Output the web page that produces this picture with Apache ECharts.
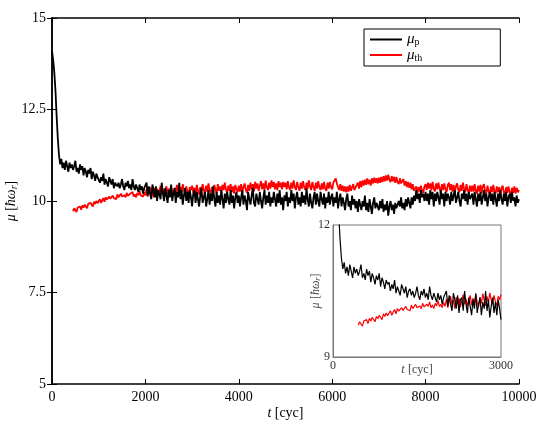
<!DOCTYPE html>
<html><head><meta charset="utf-8">
<script src="https://cdn.jsdelivr.net/npm/echarts@6/dist/echarts.min.js"></script>
<style>html,body{margin:0;padding:0;background:#fff}#c{width:540px;height:426px}</style>
</head><body><div id="c"></div>
<script>
// sampling step of the data (cycles)
const STEP = 25;
const pStart = 0;
const muP = [
14.1, 13.85, 13.5, 13.0, 12.3, 11.7, 11.25, 11.0, 11.15, 10.9, 11.05, 10.85, 11.1, 10.95, 10.8, 11.05, 10.9, 11.0, 10.85, 10.95, 11.1, 10.8, 10.9, 10.75, 11.0, 10.85, 10.95, 10.7, 10.9, 10.8, 10.65, 10.85, 10.75, 10.9, 10.6, 10.8, 10.7, 10.55, 10.75, 10.65,
10.7, 10.5, 10.65, 10.55, 10.75, 10.45, 10.6, 10.5, 10.4, 10.65, 10.55, 10.45, 10.6, 10.35, 10.5, 10.55, 10.4, 10.5, 10.35, 10.45, 10.6, 10.4, 10.3, 10.5, 10.4, 10.55, 10.35, 10.45, 10.3, 10.6, 10.4, 10.3, 10.45, 10.35, 10.25, 10.45, 10.3, 10.4, 10.2, 10.35,
10.35, 10.5, 10.15, 10.4, 10.2, 10.05, 10.45, 10.3, 10.1, 10.4, 10.0, 10.3, 10.35, 10.05, 10.5, 10.2, 10.0, 10.35, 10.15, 9.95, 10.3, 10.1, 10.45, 10.0, 10.2, 10.35, 9.95, 10.25, 10.1, 10.5, 10.05, 10.3, 9.9, 10.15, 10.35, 10.0, 10.25, 9.95, 10.3, 10.1,
9.85, 10.2, 10.3, 9.95, 10.25, 10.05, 9.85, 10.15, 10.35, 9.95, 10.1, 10.25, 9.85, 10.05, 10.3, 9.9, 10.2, 10.0, 10.4, 10.05, 9.85, 10.25, 9.95, 10.15, 9.9, 10.3, 10.05, 9.8, 10.2, 9.95, 10.25, 10.05, 9.9, 10.3, 9.95, 10.15, 9.8, 10.1, 10.25, 9.95,
10.15, 9.85, 10.1, 10.3, 9.9, 10.15, 10.0, 9.75, 10.25, 10.05, 9.9, 10.15, 10.35, 9.95, 9.85, 10.2, 10.05, 9.9, 10.25, 10.0, 9.8, 10.1, 10.3, 9.9, 10.15, 9.95, 10.25, 9.85, 10.1, 9.95, 10.25, 10.05, 9.85, 10.2, 9.95, 10.3, 9.9, 10.1, 9.75, 10.15,
10.0, 10.25, 9.85, 10.1, 9.95, 10.3, 10.0, 10.2, 9.8, 10.1, 10.25, 9.9, 10.1, 9.85, 10.25, 9.95, 10.15, 9.9, 10.35, 10.05, 9.85, 10.2, 9.95, 9.8, 10.1, 10.25, 9.9, 10.2, 10.0, 9.85, 10.25, 10.05, 9.9, 10.2, 9.8, 10.1, 9.95, 10.25, 9.9, 10.1,
10.2, 9.85, 10.1, 9.95, 10.25, 9.8, 10.05, 10.2, 9.85, 10.1, 9.95, 9.75, 10.05, 10.2, 9.85, 10.0, 9.75, 10.15, 9.9, 10.05, 9.8, 10.0, 9.7, 10.05, 9.9, 9.75, 10.0, 9.85, 10.15, 9.75, 9.95, 9.7, 10.05, 9.85, 9.65, 9.95, 10.1, 9.8, 9.95, 9.85,
9.75, 10.0, 9.8, 10.05, 9.7, 9.9, 9.75, 10.0, 9.6, 9.85, 10.0, 9.75, 9.9, 9.65, 9.95, 9.8, 9.75, 10.0, 9.85, 10.1, 9.8, 9.95, 9.75, 10.05, 9.85, 10.1, 9.95, 9.8, 10.1, 9.9, 10.15, 10.0, 10.3, 10.05, 10.2, 9.95, 10.3, 10.1, 10.2, 10.0,
10.25, 10.0, 10.2, 9.9, 10.3, 10.05, 10.25, 9.85, 10.2, 10.0, 10.25, 10.1, 9.9, 10.3, 10.05, 10.2, 9.85, 10.25, 10.0, 10.2, 10.1, 9.9, 10.25, 10.0, 10.15, 10.3, 9.95, 10.1, 10.25, 10.0, 9.85, 10.2, 10.05, 10.3, 10.0, 10.2, 9.9, 10.25, 10.05, 10.0,
10.2, 9.9, 10.25, 10.05, 9.85, 10.2, 10.0, 10.25, 9.9, 10.1, 10.3, 10.0, 10.2, 9.85, 10.1, 10.25, 10.0, 10.2, 9.9, 10.25, 10.05, 9.85, 10.2, 10.0, 10.3, 10.05, 9.9, 10.2, 10.0, 10.25, 9.85, 10.1, 10.2, 9.95, 10.25, 10.0, 10.1, 9.85, 10.15, 9.95,
10.05
];
const thStart = 450;
const muTh = [
9.72, 9.8, 9.75, 9.7, 9.82, 9.78, 9.85, 9.76, 9.88, 9.82, 9.9, 9.85, 9.8, 9.92, 9.87, 9.95, 9.9, 9.85, 9.98, 9.92, 10.0, 9.94,
9.98, 10.05, 9.95, 10.02, 10.08, 9.98, 10.1, 10.04, 10.0, 10.12, 10.06, 10.02, 10.15, 10.08, 10.12, 10.05, 10.18, 10.1, 10.06, 10.2, 10.12, 10.08, 10.16, 10.1, 10.22, 10.14, 10.1, 10.2, 10.15, 10.25, 10.12, 10.18, 10.1, 10.22, 10.16, 10.28, 10.15, 10.2, 10.12, 10.24,
10.15, 10.32, 10.12, 10.28, 10.38, 10.18, 10.3, 10.1, 10.36, 10.2, 10.34, 10.14, 10.27, 10.42, 10.2, 10.33, 10.15, 10.3, 10.4, 10.18, 10.34, 10.22, 10.42, 10.24, 10.14, 10.36, 10.22, 10.44, 10.28, 10.16, 10.38, 10.24, 10.46, 10.3, 10.2, 10.4, 10.26, 10.16, 10.38, 10.3,
10.42, 10.22, 10.36, 10.2, 10.44, 10.28, 10.18, 10.38, 10.26, 10.46, 10.3, 10.2, 10.42, 10.26, 10.48, 10.3, 10.2, 10.38, 10.24, 10.44, 10.32, 10.2, 10.46, 10.28, 10.4, 10.22, 10.44, 10.3, 10.5, 10.32, 10.22, 10.42, 10.28, 10.46, 10.24, 10.4, 10.2, 10.44, 10.32, 10.24,
10.42, 10.26, 10.46, 10.24, 10.38, 10.48, 10.3, 10.22, 10.44, 10.28, 10.5, 10.32, 10.46, 10.26, 10.52, 10.34, 10.48, 10.28, 10.42, 10.54, 10.32, 10.48, 10.3, 10.56, 10.38, 10.3, 10.5, 10.34, 10.56, 10.38, 10.52, 10.32, 10.48, 10.3, 10.54, 10.38, 10.5, 10.32, 10.52, 10.38,
10.5, 10.32, 10.54, 10.38, 10.3, 10.5, 10.34, 10.56, 10.38, 10.3, 10.52, 10.38, 10.28, 10.5, 10.34, 10.54, 10.38, 10.3, 10.5, 10.34, 10.56, 10.4, 10.3, 10.52, 10.38, 10.28, 10.5, 10.34, 10.54, 10.38, 10.3, 10.48, 10.32, 10.52, 10.34, 10.28, 10.5, 10.34, 10.52, 10.38,
10.32, 10.5, 10.56, 10.62, 10.48, 10.38, 10.3, 10.46, 10.28, 10.42, 10.26, 10.4, 10.24, 10.4, 10.26, 10.44, 10.28, 10.24, 10.46, 10.3, 10.26, 10.44, 10.5, 10.34, 10.54, 10.38, 10.56, 10.42, 10.58, 10.44, 10.62, 10.46, 10.58, 10.42, 10.62, 10.48, 10.64, 10.5, 10.62, 10.48,
10.64, 10.5, 10.66, 10.52, 10.68, 10.54, 10.7, 10.56, 10.72, 10.58, 10.52, 10.68, 10.54, 10.66, 10.5, 10.66, 10.52, 10.46, 10.62, 10.48, 10.44, 10.6, 10.42, 10.54, 10.38, 10.52, 10.36, 10.5, 10.32, 10.46, 10.28, 10.24, 10.4, 10.22, 10.38, 10.26, 10.42, 10.28, 10.22, 10.4,
10.46, 10.3, 10.5, 10.34, 10.48, 10.3, 10.52, 10.34, 10.26, 10.48, 10.32, 10.5, 10.34, 10.24, 10.46, 10.3, 10.48, 10.32, 10.24, 10.44, 10.5, 10.3, 10.46, 10.26, 10.44, 10.22, 10.4, 10.48, 10.3, 10.24, 10.44, 10.28, 10.5, 10.32, 10.24, 10.46, 10.3, 10.22, 10.42, 10.26,
10.42, 10.26, 10.46, 10.28, 10.2, 10.42, 10.26, 10.44, 10.22, 10.4, 10.46, 10.26, 10.2, 10.42, 10.26, 10.18, 10.4, 10.24, 10.44, 10.26, 10.2, 10.4, 10.24, 10.38, 10.18, 10.34, 10.42, 10.24, 10.16, 10.38, 10.22, 10.4, 10.24, 10.16, 10.36, 10.22, 10.4, 10.2, 10.36, 10.24,
10.3
];
const mainXTicks = [0, 2000, 4000, 6000, 8000, 10000];
const mainYTicks = ['5', '7.5', '10', '12.5', '15'];
const insetMaxT = 3000;

const pairs = (start, vals) => vals.map((v, i) => [start + i * STEP, v]);
const pData = pairs(pStart, muP);
const thData = pairs(thStart, muTh);
const pInset = pData.filter(d => d[0] <= insetMaxT);
const thInset = thData.filter(d => d[0] <= insetMaxT);

const FONT = 'Liberation Serif';
const richName = (size, col) => ({
  i: { fontStyle: 'italic', fontFamily: FONT, fontSize: size, color: col },
  n: { fontFamily: FONT, fontSize: size, color: col },
  s: { fontStyle: 'italic', fontFamily: FONT, fontSize: Math.round(size * 0.7), color: col, padding: [Math.round(size * 0.45), 0, 0, 0] }
});

const chart = echarts.init(document.getElementById('c'), null, { renderer: 'canvas' });
const tickIn = { show: true, inside: true, length: 5, lineStyle: { color: '#000', width: 1 } };
const lineBlk = { show: true, lineStyle: { color: '#000', width: 1.5 } };
const lineGray = { show: true, lineStyle: { color: '#777', width: 1 } };
const plain = (v) => String(v);

chart.setOption({
  animation: false,
  backgroundColor: '#fff',
  grid: [
    { left: 52, top: 18, right: 21, bottom: 42, containLabel: false, outerBoundsMode: 'none' },
    { left: 333, top: 225, width: 168, height: 132, show: true, borderColor: '#777', borderWidth: 1, containLabel: false, outerBoundsMode: 'none' }
  ],
  legend: {
    left: 364, top: 29, orient: 'vertical',
    padding: [3, 78, 3, 6],
    borderColor: '#000', borderWidth: 1,
    itemWidth: 32, itemHeight: 2, itemGap: 0, icon: 'rect',
    data: ['p', 'th'],
    formatter: (n) => '{i|μ}{s|' + n + '}',
    textStyle: { rich: {
      i: { fontStyle: 'italic', fontFamily: FONT, fontSize: 15, color: '#000' },
      s: { fontFamily: FONT, fontSize: 10, color: '#000', padding: [6, 0, 0, 0] }
    } }
  },
  xAxis: [
    { gridIndex: 0, type: 'value', min: 0, max: 10000, interval: 2000,
      axisLine: lineBlk, axisTick: tickIn, splitLine: { show: false },
      axisLabel: { fontSize: 14, margin: 6, color: '#000', fontFamily: FONT, formatter: (v) => String(mainXTicks[mainXTicks.indexOf(v)]) },
      name: '{i|t} {n|[cyc]}', nameLocation: 'middle', nameGap: 22, nameMoveOverlap: false,
      nameTextStyle: { rich: richName(14, '#000') } },
    { gridIndex: 0, type: 'value', position: 'top', min: 0, max: 10000, interval: 2000,
      axisLine: lineBlk, axisTick: tickIn, axisLabel: { show: false }, splitLine: { show: false } },
    { gridIndex: 1, type: 'value', min: 0, max: insetMaxT, interval: insetMaxT,
      axisLine: lineGray, axisTick: { show: false }, splitLine: { show: false },
      axisLabel: { fontSize: 12, margin: 3, color: '#333', fontFamily: FONT, formatter: plain },
      name: '{i|t} {n|[cyc]}', nameLocation: 'middle', nameGap: 7, nameMoveOverlap: false,
      nameTextStyle: { rich: richName(12, '#444') } }
  ],
  yAxis: [
    { gridIndex: 0, type: 'value', min: 5, max: 15, interval: 2.5,
      axisLine: lineBlk, axisTick: tickIn, splitLine: { show: false },
      axisLabel: { fontSize: 14, margin: 6, color: '#000', fontFamily: FONT, formatter: (v) => mainYTicks[Math.round((v - 5) / 2.5)] },
      name: '{i|μ} {n|[}{i|ħω}{s|r}{n|]}', nameLocation: 'middle', nameGap: 33, nameRotate: 90, nameMoveOverlap: false,
      nameTextStyle: { rich: richName(14, '#000') } },
    { gridIndex: 0, type: 'value', position: 'right', min: 5, max: 15, interval: 2.5,
      axisLine: lineBlk, axisTick: tickIn, axisLabel: { show: false }, splitLine: { show: false } },
    { gridIndex: 1, type: 'value', min: 9, max: 12, interval: 3,
      axisLine: lineGray, axisTick: { show: false }, splitLine: { show: false },
      axisLabel: { fontSize: 12, margin: 3, color: '#333', fontFamily: FONT, formatter: plain },
      name: '{i|μ} {n|[}{i|ħω}{s|r}{n|]}', nameLocation: 'middle', nameGap: 11, nameRotate: 90, nameMoveOverlap: false,
      nameTextStyle: { rich: richName(12, '#444') } }
  ],
  series: [
    { name: 'p', type: 'line', xAxisIndex: 0, yAxisIndex: 0, data: pData, showSymbol: false, symbol: 'none',
      lineStyle: { color: '#000', width: 1.8 }, itemStyle: { color: '#000' }, z: 3 },
    { name: 'th', type: 'line', xAxisIndex: 0, yAxisIndex: 0, data: thData, showSymbol: false, symbol: 'none',
      lineStyle: { color: '#ff0000', width: 1.8 }, itemStyle: { color: '#ff0000' }, z: 2 },
    { name: 'p', type: 'line', xAxisIndex: 2, yAxisIndex: 2, data: pInset, showSymbol: false, symbol: 'none', clip: true,
      lineStyle: { color: '#000', width: 1.2 }, itemStyle: { color: '#000' }, z: 5 },
    { name: 'th', type: 'line', xAxisIndex: 2, yAxisIndex: 2, data: thInset, showSymbol: false, symbol: 'none', clip: true,
      lineStyle: { color: '#ff0000', width: 1.2 }, itemStyle: { color: '#ff0000' }, z: 4 }
  ]
});
</script></body></html>
